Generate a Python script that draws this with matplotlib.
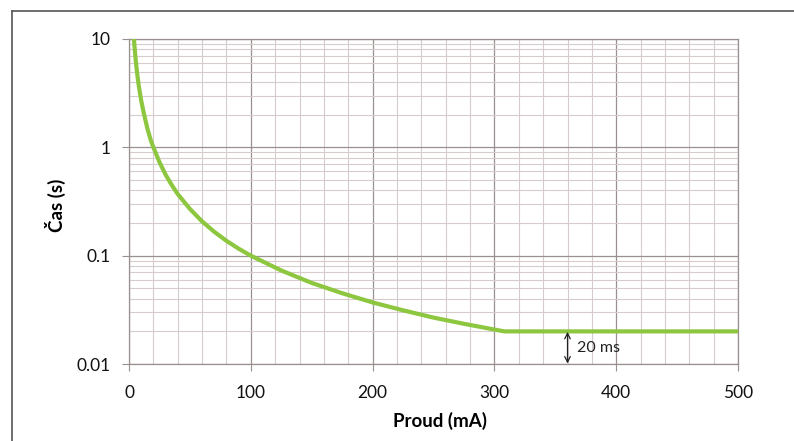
import matplotlib.pyplot as plt
from matplotlib.lines import Line2D
from matplotlib.ticker import FixedLocator, LogLocator, NullFormatter

# values (current in mA, trip time in s)
current_ma = [4, 5, 6, 7, 8, 10, 12, 15, 18, 20, 25, 30, 35, 40, 50, 60, 70,
              80, 90, 100, 125, 150, 175, 200, 225, 250, 275, 300, 308, 500]
time_s = [10, 7.3, 5.6, 4.5, 3.7, 2.7, 2.1, 1.5, 1.15, 1.0, 0.73, 0.56,
          0.45, 0.37, 0.27, 0.207, 0.166, 0.137, 0.116, 0.1, 0.073, 0.056,
          0.045, 0.037, 0.0313, 0.0268, 0.0235, 0.0208, 0.02, 0.02]

x_ticks = [0, 100, 200, 300, 400, 500]
y_ticks = [0.01, 0.1, 1, 10]
y_tick_labels = ["0.01", "0.1", "1", "10"]

plt.rcParams["font.family"] = ["Lato", "DejaVu Sans"]

fig = plt.figure(figsize=(7.94, 4.41), dpi=100)
ax = fig.add_axes([0.1625, 0.1746, 0.767, 0.737])

major_c = "#9a9090"
minor_c = "#d6cccc"

ax.set_yscale("log")
ax.set_xlim(0, 500)
ax.set_ylim(0.01, 10)

ax.set_xticks(x_ticks)
ax.xaxis.set_minor_locator(FixedLocator(range(0, 501, 20)))
ax.set_yticks(y_ticks)
ax.set_yticklabels(y_tick_labels)
ax.yaxis.set_minor_locator(LogLocator(base=10, subs=range(2, 10)))
ax.yaxis.set_minor_formatter(NullFormatter())

ax.grid(True, which="major", color=major_c, linewidth=0.9)
ax.grid(True, which="minor", color=minor_c, linewidth=0.8)
ax.set_axisbelow(True)

ax.tick_params(which="major", length=5, width=0.8, color=major_c,
               labelsize=12.5, labelcolor="#111111")
ax.tick_params(axis="x", pad=10)
ax.tick_params(axis="y", pad=8)
ax.tick_params(which="minor", length=0)
for s in ax.spines.values():
    s.set_color(major_c)
    s.set_linewidth(0.9)

ax.plot(current_ma, time_s, color="#8dc63f", linewidth=3.0,
        solid_capstyle="butt", solid_joinstyle="round", zorder=3)

ax.annotate("", xy=(360, 0.0101), xytext=(360, 0.0198),
            arrowprops=dict(arrowstyle="<->", color="#222222", lw=0.9,
                            shrinkA=0, shrinkB=0))
ax.text(368, 0.014, "20 ms", fontsize=11.5, va="center", ha="left",
        color="#222222")

ax.set_xlabel("Proud (mA)", fontsize=13.5, fontweight="bold")
ax.xaxis.set_label_coords(0.51, -0.175)
ax.xaxis.label.set_va("center")
ax.set_ylabel("Čas (s)", fontsize=13.5, fontweight="bold")
ax.yaxis.set_label_coords(-0.12, 0.489)
ax.yaxis.label.set_va("center")

# outer frame (left and top edges)
fig.add_artist(Line2D([12 / 794, 12 / 794], [0, 1 - 11 / 441],
                      transform=fig.transFigure, color="#555555", lw=1.2))
fig.add_artist(Line2D([12 / 794, 1], [1 - 11 / 441, 1 - 11 / 441],
                      transform=fig.transFigure, color="#555555", lw=1.2))

fig.savefig("out.png", dpi=100)
